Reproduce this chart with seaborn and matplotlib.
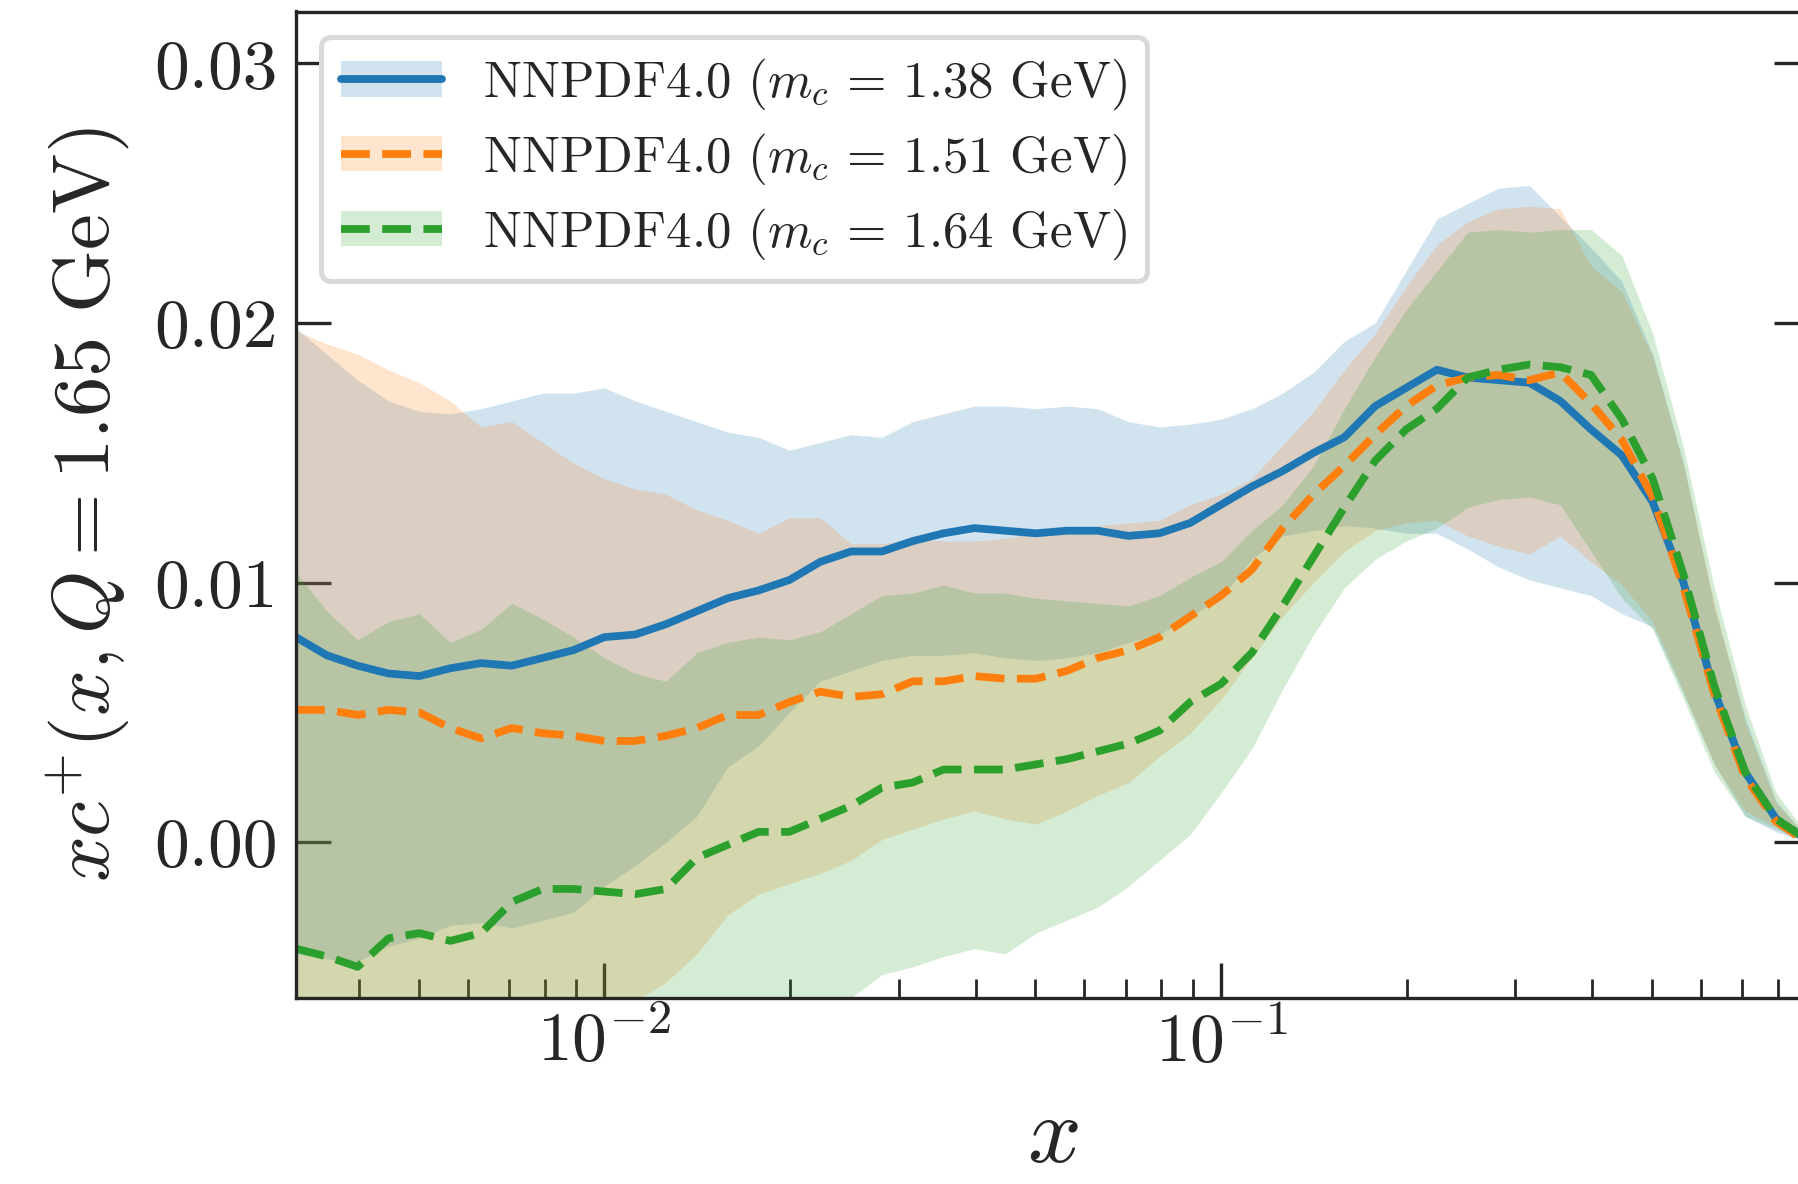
import numpy as np
import matplotlib
matplotlib.use("Agg")
import matplotlib.pyplot as plt
import seaborn as sns
from matplotlib.patches import Patch
from matplotlib.lines import Line2D
from matplotlib.ticker import FormatStrFormatter

# ---------------- data ----------------
log_x = [-2.50, -2.45, -2.40, -2.35, -2.30, -2.25, -2.20, -2.15, -2.10, -2.05,
         -2.00, -1.95, -1.90, -1.85, -1.80, -1.75, -1.70, -1.65, -1.60, -1.55,
         -1.50, -1.45, -1.40, -1.35, -1.30, -1.25, -1.20, -1.15, -1.10, -1.05,
         -1.00, -0.95, -0.90, -0.85, -0.80, -0.75, -0.70, -0.65, -0.60, -0.55,
         -0.50, -0.45, -0.40, -0.35, -0.30, -0.25, -0.20, -0.15, -0.10, -0.05]

blue_c = [0.0079, 0.0072, 0.0068, 0.0065, 0.0064, 0.0067, 0.0069, 0.0068, 0.0071, 0.0074,
          0.0079, 0.0080, 0.0084, 0.0089, 0.0094, 0.0097, 0.0101, 0.0108, 0.0112, 0.0112,
          0.0116, 0.0119, 0.0121, 0.0120, 0.0119, 0.0120, 0.0120, 0.0118, 0.0119, 0.0123,
          0.0130, 0.0137, 0.0143, 0.0150, 0.0156, 0.0168, 0.0175, 0.0182, 0.0179, 0.0178,
          0.0177, 0.0170, 0.0159, 0.0149, 0.0131, 0.0100, 0.0058, 0.0027, 0.0009, 0.0001]
blue_up = [0.0198, 0.0188, 0.0178, 0.0170, 0.0166, 0.0165, 0.0167, 0.0170, 0.0173, 0.0173,
           0.0175, 0.0170, 0.0166, 0.0162, 0.0158, 0.0156, 0.0151, 0.0154, 0.0157, 0.0156,
           0.0162, 0.0165, 0.0168, 0.0168, 0.0167, 0.0168, 0.0167, 0.0162, 0.0160, 0.0161,
           0.0163, 0.0167, 0.0173, 0.0181, 0.0193, 0.0200, 0.0220, 0.0240, 0.0246, 0.0252,
           0.0253, 0.0241, 0.0229, 0.0216, 0.0188, 0.0146, 0.0090, 0.0048, 0.0016, 0.0002]
blue_lo = [-0.0043, -0.0045, -0.0046, -0.0040, -0.0037, -0.0032, -0.0031, -0.0033, -0.0030, -0.0027,
           -0.0017, -0.0009, 0.0000, 0.0010, 0.0029, 0.0037, 0.0050, 0.0062, 0.0066, 0.0070,
           0.0072, 0.0072, 0.0073, 0.0071, 0.0070, 0.0071, 0.0073, 0.0077, 0.0080, 0.0087,
           0.0094, 0.0109, 0.0118, 0.0120, 0.0122, 0.0121, 0.0119, 0.0119, 0.0113, 0.0106,
           0.0101, 0.0098, 0.0095, 0.0088, 0.0083, 0.0057, 0.0030, 0.0010, 0.0004, 0.0000]

orange_c = [0.0051, 0.0051, 0.0049, 0.0051, 0.0050, 0.0044, 0.0040, 0.0044, 0.0042, 0.0041,
            0.0039, 0.0039, 0.0041, 0.0044, 0.0049, 0.0049, 0.0054, 0.0058, 0.0056, 0.0057,
            0.0062, 0.0062, 0.0064, 0.0063, 0.0063, 0.0066, 0.0071, 0.0074, 0.0079, 0.0087,
            0.0095, 0.0105, 0.0121, 0.0134, 0.0145, 0.0157, 0.0168, 0.0176, 0.0179, 0.0180,
            0.0178, 0.0181, 0.0169, 0.0155, 0.0133, 0.0098, 0.0057, 0.0025, 0.0008, 0.0000]
orange_up = [0.0197, 0.0192, 0.0188, 0.0182, 0.0177, 0.0170, 0.0160, 0.0162, 0.0154, 0.0146,
             0.0140, 0.0136, 0.0134, 0.0128, 0.0124, 0.0119, 0.0125, 0.0125, 0.0115, 0.0115,
             0.0117, 0.0116, 0.0116, 0.0117, 0.0119, 0.0120, 0.0122, 0.0123, 0.0124, 0.0130,
             0.0134, 0.0140, 0.0153, 0.0166, 0.0182, 0.0196, 0.0214, 0.0230, 0.0239, 0.0244,
             0.0245, 0.0244, 0.0222, 0.0212, 0.0187, 0.0145, 0.0092, 0.0046, 0.0015, 0.0002]
orange_lo = [-0.0085, -0.0085, -0.0084, -0.0083, -0.0082, -0.0080, -0.0078, -0.0076, -0.0073, -0.0069,
             -0.0065, -0.0061, -0.0054, -0.0043, -0.0028, -0.0020, -0.0016, -0.0012, -0.0007, 0.0001,
             0.0005, 0.0009, 0.0012, 0.0009, 0.0007, 0.0012, 0.0018, 0.0023, 0.0033, 0.0042,
             0.0055, 0.0071, 0.0087, 0.0100, 0.0112, 0.0120, 0.0123, 0.0124, 0.0118, 0.0114,
             0.0111, 0.0118, 0.0108, 0.0099, 0.0085, 0.0058, 0.0030, 0.0012, 0.0006, 0.0000]

green_c = [-0.0041, -0.0044, -0.0048, -0.0037, -0.0035, -0.0038, -0.0035, -0.0023, -0.0018, -0.0018,
           -0.0019, -0.0020, -0.0018, -0.0006, -0.0001, 0.0004, 0.0004, 0.0009, 0.0014, 0.0021,
           0.0023, 0.0028, 0.0028, 0.0028, 0.0030, 0.0032, 0.0035, 0.0038, 0.0043, 0.0054,
           0.0061, 0.0073, 0.0091, 0.0110, 0.0129, 0.0147, 0.0159, 0.0167, 0.0179, 0.0182,
           0.0184, 0.0183, 0.0180, 0.0163, 0.0140, 0.0103, 0.0060, 0.0027, 0.0009, 0.0001]
green_up = [0.0104, 0.0089, 0.0078, 0.0085, 0.0088, 0.0077, 0.0082, 0.0092, 0.0086, 0.0079,
            0.0071, 0.0065, 0.0062, 0.0073, 0.0077, 0.0079, 0.0078, 0.0081, 0.0088, 0.0095,
            0.0096, 0.0099, 0.0096, 0.0096, 0.0094, 0.0093, 0.0092, 0.0091, 0.0095, 0.0102,
            0.0108, 0.0120, 0.0130, 0.0145, 0.0167, 0.0187, 0.0205, 0.0220, 0.0235, 0.0236,
            0.0235, 0.0236, 0.0236, 0.0226, 0.0196, 0.0152, 0.0098, 0.0053, 0.0019, 0.0003]
green_lo = [-0.0120, -0.0118, -0.0116, -0.0113, -0.0110, -0.0107, -0.0104, -0.0100, -0.0096, -0.0092,
            -0.0088, -0.0084, -0.0080, -0.0076, -0.0072, -0.0069, -0.0066, -0.0064, -0.0060, -0.0051,
            -0.0048, -0.0044, -0.0041, -0.0043, -0.0035, -0.0030, -0.0025, -0.0017, -0.0007, 0.0003,
            0.0019, 0.0036, 0.0059, 0.0080, 0.0098, 0.0109, 0.0116, 0.0121, 0.0129, 0.0132,
            0.0133, 0.0130, 0.0112, 0.0094, 0.0082, 0.0055, 0.0027, 0.0010, 0.0005, 0.0000]

labels = [r"NNPDF4.0 ($m_c\,=\,1.38$ GeV)",
          r"NNPDF4.0 ($m_c\,=\,1.51$ GeV)",
          r"NNPDF4.0 ($m_c\,=\,1.64$ GeV)"]
y_ticks = [0.00, 0.01, 0.02, 0.03]

# ---------------- style ----------------
sns.set_style("ticks")
plt.rcParams.update({
    "font.family": "serif",
    "font.serif": ["cmr10", "DejaVu Serif"],
    "mathtext.fontset": "cm",
    "axes.formatter.use_mathtext": True,
    "axes.unicode_minus": False,
    "axes.linewidth": 1.2,
})

colors = sns.color_palette("tab10")[:3]
styles = ["-", "--", "--"]
centrals = [blue_c, orange_c, green_c]
uppers = [blue_up, orange_up, green_up]
lowers = [blue_lo, orange_lo, green_lo]

x = 10 ** np.array(log_x)

fig = plt.figure(figsize=(1799 / 200, 1184 / 200), dpi=200)
ax = fig.add_axes([296 / 1799, 1 - 998 / 1184, (1809.5 - 296) / 1799, (998 - 11.5) / 1184])

for c, lo, up in zip(colors, lowers, uppers):
    ax.fill_between(x, lo, up, color=c, alpha=0.2, linewidth=0)

lw = 2.8
for c, ls, yc in zip(colors, styles, centrals):
    sns.lineplot(x=x, y=yc, ax=ax, color=c, linestyle=ls, linewidth=lw)

ax.set_xscale("log")
ax.set_xlim(10 ** -2.5, 0.9)
ax.set_ylim(-0.006, 0.032)
ax.set_yticks(y_ticks)
ax.yaxis.set_major_formatter(FormatStrFormatter("%.2f"))

ax.tick_params(axis="both", which="both", direction="in")
ax.tick_params(axis="x", which="both", bottom=True, top=False)
ax.tick_params(axis="y", which="both", left=True, right=True)
ax.tick_params(which="major", length=12.5, width=1.2, labelsize=25)
ax.tick_params(which="minor", length=6.8, width=1.0)
ax.tick_params(axis="y", pad=6.5)
ax.tick_params(axis="x", pad=4)
ax.minorticks_on()
ax.yaxis.set_minor_locator(matplotlib.ticker.NullLocator())

for s in ax.spines.values():
    s.set_linewidth(1.2)

ax.set_xlabel(r"$x$", fontsize=34, labelpad=8)
ax.set_ylabel(r"$xc^{+}(x,Q=1.65\ \mathrm{GeV})$", fontsize=29, labelpad=8)

handles = []
for c, ls in zip(colors, styles):
    handles.append((Patch(facecolor=c, alpha=0.2, edgecolor="none"),
                    Line2D([], [], color=c, linestyle=ls, linewidth=lw)))
leg = ax.legend(handles, labels, loc="upper left", fontsize=18.3, frameon=True,
                fancybox=True, framealpha=1.0, edgecolor="0.85",
                labelspacing=0.38, borderpad=0.38)
leg.get_frame().set_linewidth(1.8)

fig.savefig("out.png", dpi=200)
